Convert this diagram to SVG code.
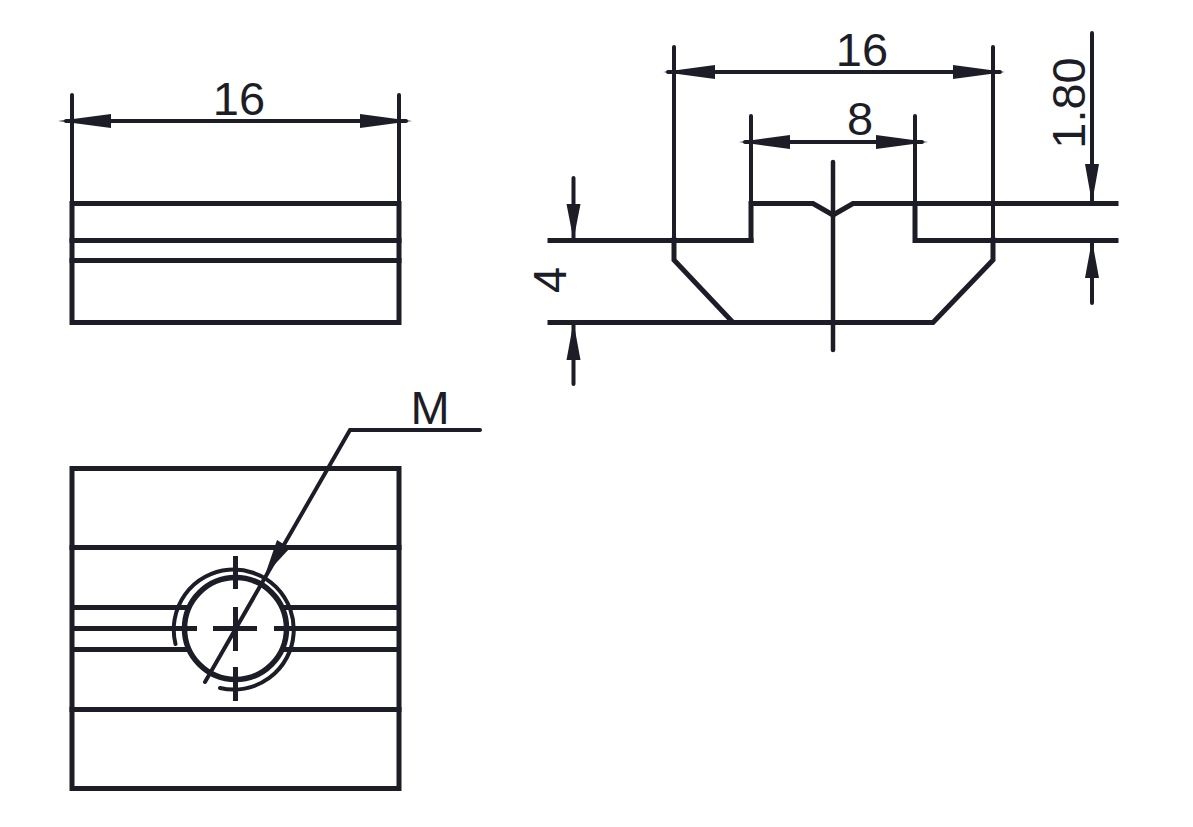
<svg xmlns="http://www.w3.org/2000/svg" width="1193" height="827" viewBox="0 0 1193 827">
<defs><style>
.o{fill:none;stroke:#1d1d27;stroke-width:5;stroke-linecap:square;stroke-linejoin:miter}
.d{fill:none;stroke:#1d1d27;stroke-width:4;stroke-linecap:round}
.a{fill:#1d1d27;stroke:none}
.t{font-family:"Liberation Sans",Arial,sans-serif;font-size:47px;fill:#1d1d27;text-anchor:middle}
</style></defs>
<rect width="1193" height="827" fill="#fff"/>
<g id="view-top-left">
<path class="o" d="M72 203.500H399V322.500H72Z"/>
<path class="o" d="M72 240.500H399M72 260.500H399"/>
</g>
<g id="view-right">
<path class="o" d="M674 240V260L733 322.500H933L993 260V240"/>
<path class="o" d="M751 240.500V203.500H813L833 215L853 203.500H1116"/>
<path class="o" d="M550 240.500H751M915 203.500V240.500H1116M550 322.500H733"/>
<path class="d" d="M833 162V350" style="stroke-width:4.500"/>
</g>
<g id="view-bottom-left">
<path class="o" d="M72 468.500H399V788.500H72Z"/>
<path class="o" d="M72 547.500H399M72 709.500H399"/>
<path class="o" d="M74 607.500H186M74 649.500H186M285 607.500H397M285 649.500H397"/>
<path class="o" d="M72 628.500H197M274 628.500H399" style="stroke-linecap:butt"/>
<circle class="o" cx="235.500" cy="628.500" r="51" style="stroke-width:5.500"/>
<path d="M175.500 644A60 60 0 1 1 220 688" fill="none" stroke="#1d1d27" stroke-width="4" stroke-linecap="round"/>
<path class="o" d="M213 628.500H257M235.500 556V589M235.500 607V651M235.500 667V701" style="stroke-linecap:butt"/>
</g>
<g id="connectors">
<path class="d" d="M72 95V203M399 95V203M66 121H406"/>
<path class="a" d="M58 121L111 114V128ZM412 121L360 114V128Z"/>
<path class="d" d="M674 47V240M993 47V240M668 72H1000"/>
<path class="a" d="M663 72L715 65V79ZM1005 72L953 65V79Z"/>
<path class="d" d="M751 116V203M915 116V203M745 142H922"/>
<path class="a" d="M739 142L790 135V149ZM928 142L876 135V149Z"/>
<path class="d" d="M573.500 178V240M573.500 322V384"/>
<path class="a" d="M573.500 240L566.500 204H580.500ZM573.500 322L566.500 360H580.500Z"/>
<path class="d" d="M1092 33V203M1092 240V303"/>
<path class="a" d="M1092 203L1085 164H1099ZM1092 240L1085 278H1099Z"/>
<path class="d" d="M480 430H350L205 682"/>
<path class="a" d="M265 575L277 540L290 548Z"/>
</g>
<g id="labels">
<text class="t" x="239" y="115">16</text>
<text class="t" x="862" y="66">16</text>
<text class="t" x="860" y="135">8</text>
<text class="t" x="430" y="424">M</text>
<text class="t" transform="translate(566 280) rotate(-90)">4</text>
<text class="t" transform="translate(1085 103) rotate(-90)">1.80</text>
</g>
</svg>
